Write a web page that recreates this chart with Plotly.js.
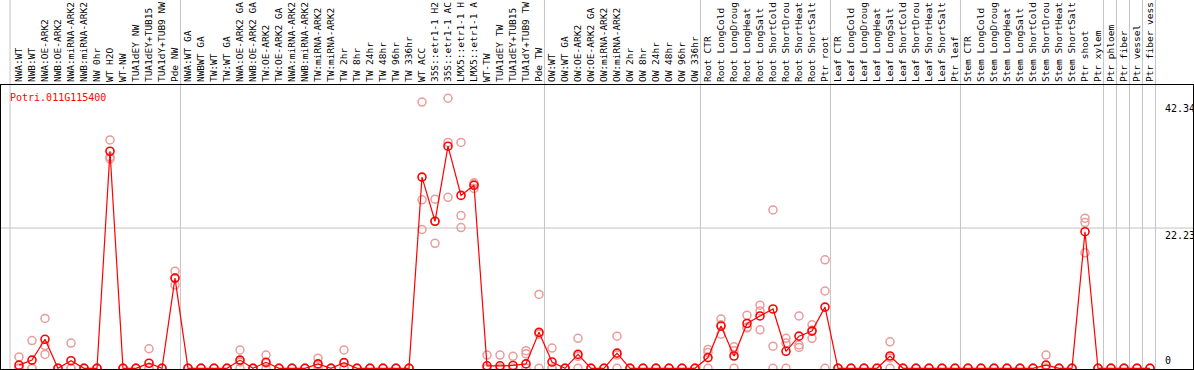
<!DOCTYPE html>
<html>
<head>
<meta charset="utf-8">
<script src="https://cdn.plot.ly/plotly-3.0.1.min.js"></script>
<style>html,body{margin:0;padding:0;background:#fff;}#chart{width:1194px;height:370px;}</style>
</head>
<body>
<div id="chart"></div>
<script>
const geneName = 'Potri.011G115400';

const categories = [
 'NWA:WT','NWB:WT','NWA:OE-ARK2','NWB:OE-ARK2','NWA:miRNA-ARK2','NWB:miRNA-ARK2','NW 0hr','WT H2O','WT-NW','TUA1dEY NW',
 'TUA1dEY+TUB15 NW','TUA1dY+TUB9 NW','Pde NW','NWA:WT GA','NWBWT GA','TW:WT','TW:WT GA','NWA:OE-ARK2 GA','NWB:OE-ARK2 GA','TW:OE-ARK2',
 'TW:OE-ARK2 GA','NWA:miRNA-ARK2 GA','NWB:miRNA-ARK2 GA','TW:miRNA-ARK2','TW:miRNA-ARK2 GA','TW 2hr','TW 8hr','TW 24hr','TW 48hr','TW 96hr',
 'TW 336hr','WT ACC','35S::etr1-1 H2O','35S::etr1-1 ACC','LMX5::etr1-1 H2O','LMX5::etr1-1 ACC','WT-TW','TUA1dEY TW','TUA1dEY+TUB15 TW','TUA1dY+TUB9 TW',
 'Pde TW','OW:WT','OW:WT GA','OW:OE-ARK2','OW:OE-ARK2 GA','OW:miRNA-ARK2','OW:miRNA-ARK2 GA','OW 2hr','OW 8hr','OW 24hr',
 'OW 48hr','OW 96hr','OW 336hr','Root CTR','Root LongCold','Root LongDrought','Root LongHeat','Root LongSalt','Root ShortCold','Root ShortDrought',
 'Root ShortHeat','Root ShortSalt','Ptr root','Leaf CTR','Leaf LongCold','Leaf LongDrought','Leaf LongHeat','Leaf LongSalt','Leaf ShortCold','Leaf ShortDrought',
 'Leaf ShortHeat','Leaf ShortSalt','Ptr leaf','Stem CTR','Stem LongCold','Stem LongDrought','Stem LongHeat','Stem LongSalt','Stem ShortCold','Stem ShortDrought',
 'Stem ShortHeat','Stem ShortSalt','Ptr shoot','Ptr xylem','Ptr phloem','Ptr fiber','Ptr vessel','Ptr fiber vessel'
];

// tick labels as they appear in the reference (the header area only shows the first 14 characters)
const tickLabels = categories.map(c => c.length > 14 ? c.slice(0, 14) : c);

const meanValues = [
 0.5, 1.3, 4.6, 0, 1.2, 0, 0, 34.4, 0, 0,
 0.8, 0, 14.3, 0, 0, 0, 0, 1.3, 0, 0.95,
 0, 0, 0, 0.7, 0, 0.9, 0, 0, 0, 0,
 0, 30.3, 23.3, 35.2, 27.4, 29.0, 0.4, 0.4, 0.45, 0.7,
 5.7, 1.0, 0, 2.2, 0, 0, 2.4, 0, 0, 0,
 0, 0, 0, 1.7, 6.7, 1.95, 7.1, 8.3, 9.4, 2.7,
 5.1, 5.9, 9.7, 0, 0, 0, 0, 1.95, 0, 0,
 0, 0, 0, 0, 0, 0, 0, 0, 0, 0.5,
 0, 0, 21.65, 0, 0, 0, 0, 0
];

const replicate1 = [
 1.8, 4.4, 7.9, 0, 4.0, 0, 0, 36.2, 0, 0,
 3.1, 0, 15.4, 0, 0, 0, 0, 2.9, 0, 2.1,
 0, 0, 0, 1.6, 0, 2.9, 0, 0, 0, 0,
 0, 42.2, 26.8, 42.8, 35.8, 29.4, 2.1, 2.1, 1.9, 2.8,
 11.7, 3.2, 0, 4.75, 0, 0, 5.1, 0, 0, 0,
 0, 0, 0, 3.0, 7.8, 3.4, 8.4, 10.0, 25.1, 4.75,
 8.3, 6.9, 17.2, 0, 0, 0, 0, 4.2, 0, 0,
 0, 0, 0, 0, 0, 0, 0, 0, 0, 2.1,
 0, 0, 23.8, 0, 0, 0, 0, 0
];

const replicate2 = [
 0, 0, 3.6, 0, 0, 0, 0, 33.5, 0, 0,
 0, 0, 14.3, 0, 0, 0, 0, 1.0, 0, 0.8,
 0, 0, 0, 0.5, 0, 0, 0, 0, 0, 0,
 0, 26.7, 23.3, 35.8, 24.2, 29.2, 0, 0, 0, 2.3,
 5.4, 0, 0, 1.9, 0, 0, 2.1, 0, 0, 0,
 0, 0, 0, 2.5, 6.9, 2.8, 6.5, 9.1, 3.5, 4.0,
 3.7, 6.05, 12.25, 0, 0, 0, 0, 1.65, 0, 0,
 0, 0, 0, 0, 0, 0, 0, 0, 0, 0,
 0, 0, 23.1, 0, 0, 0, 0, 0
];

const replicate3 = [
 0, 0, 2.2, 0, 0, 0, 0, 33.2, 0, 0,
 0, 0, 13.2, 0, 0, 0, 0, 0, 0, 0,
 0, 0, 0, 0, 0, 0, 0, 0, 0, 0,
 0, 22.0, 19.8, 27.1, 22.3, 28.5, 0, 0, 0, 0,
 0, 0, 0, 0, 0, 0, 0, 0, 0, 0,
 0, 0, 0, 0, 5.4, 0, 6.4, 6.1, 0, 0,
 3.3, 4.75, 0, 0, 0, 0, 0, 0, 0, 0,
 0, 0, 0, 0, 0, 0, 0, 0, 0, 0,
 0, 0, 18.3, 0, 0, 0, 0, 0
];

const yTickValues = [0, 22.23, 42.34];
const yGridValues = [22.23];
const groupEnds = ['Pde NW','Pde TW','OW 336hr','Ptr root','Ptr leaf','Ptr xylem','Ptr phloem','Ptr fiber','Ptr vessel','Ptr fiber vessel'];

// geometry
const xr0 = -18/13, xr1 = xr0 + 1192/13;
const yr0 = -0.11, yr1 = 44.9;
const toPaperX = v => (v - xr0) / (xr1 - xr0);

const repX = [].concat(categories, categories, categories);
const repY = [].concat(replicate1, replicate2, replicate3);

const traces = [
 {type:'scatter', mode:'markers', x:repX, y:repY, cliponaxis:false,
  marker:{symbol:'circle-open', size:8, color:'#eb9b9b', line:{width:1.5, color:'#eb9b9b'}}, hoverinfo:'skip'},
 {type:'scatter', mode:'lines+markers', x:categories, y:meanValues, cliponaxis:false,
  line:{color:'#ff0000', width:1.2},
  marker:{symbol:'circle-open', size:8, color:'#ff0000', line:{width:1.6, color:'#ff0000'}}}
];

const shapes = [];
const sepPositions = [-0.69].concat(groupEnds.map(c => categories.indexOf(c) + 0.42));
sepPositions.forEach(p => {
 const px = toPaperX(p);
 shapes.push({type:'line', xref:'paper', yref:'paper', x0:px, x1:px, y0:0, y1:1.31, layer:'below',
  line:{color:'#c4c4c4', width:1}});
});
yGridValues.forEach(v => {
 shapes.push({type:'line', xref:'paper', yref:'y', x0:0, x1:1, y0:v, y1:v, layer:'below',
  line:{color:'#c4c4c4', width:1}});
});

const annotations = yTickValues.map(v => ({
 xref:'paper', yref:'y', x:(1163-1)/1192, y:v, xanchor:'left', yanchor: v === 0 ? 'bottom' : 'top',
 text: String(v), showarrow:false, font:{family:'DejaVu Sans Mono', size:10, color:'#000'}
}));

const layout = {
 width:1194, height:370,
 margin:{l:1, r:1, t:85, b:1, pad:0},
 paper_bgcolor:'#ffffff', plot_bgcolor:'#ffffff',
 showlegend:false,
 font:{family:'DejaVu Sans Mono', size:10, color:'#000'},
 title:{text:geneName, font:{family:'DejaVu Sans Mono', size:10, color:'#ff0000'},
  xref:'container', yref:'container', x:10/1194, xanchor:'left', y:1-97/370, yanchor:'middle'},
 xaxis:{type:'category', categoryorder:'array', categoryarray:categories,
  range:[xr0, xr1], side:'top', tickangle:-90, tickmode:'array', tickvals:categories, ticktext:tickLabels,
  showgrid:false, zeroline:false, showline:true, mirror:true, linecolor:'#000', linewidth:1,
  ticks:'', ticklen:0, tickfont:{family:'DejaVu Sans Mono', size:9.5, color:'#000'}},
 yaxis:{range:[yr0, yr1], showgrid:false, zeroline:false, showline:true, mirror:true,
  linecolor:'#000', linewidth:1, showticklabels:false, ticks:''},
 shapes:shapes,
 annotations:annotations
};

Plotly.newPlot('chart', traces, layout, {displayModeBar:false, staticPlot:true});
</script>
</body>
</html>
